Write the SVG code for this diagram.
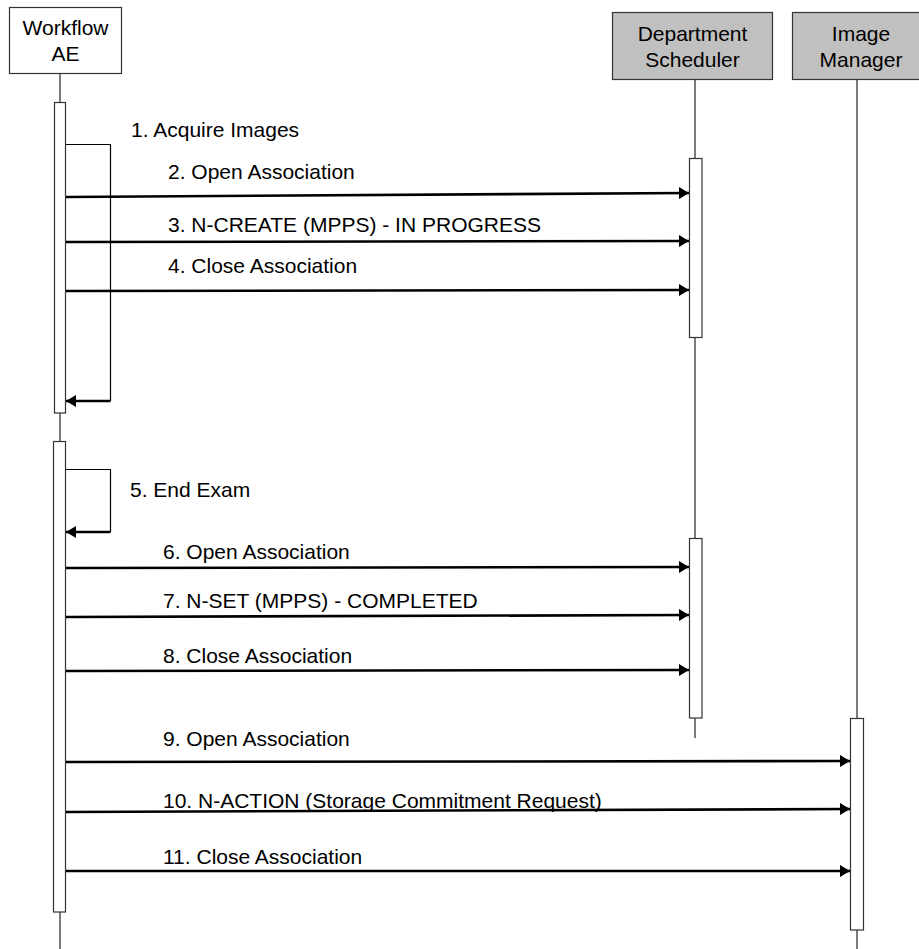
<svg xmlns="http://www.w3.org/2000/svg" width="919" height="949" viewBox="0 0 919 949">
<style>
  text { font-family: "Liberation Sans", Arial, sans-serif; font-size: 21px; fill: #000; }
  .hdr { text-anchor: middle; }
  .life { stroke: #222; stroke-width: 1.2; fill: none; }
  .bar { fill: #fff; stroke: #333; stroke-width: 1.2; }
  .box { stroke: #333; stroke-width: 1.2; }
  .msg { stroke: #000; stroke-width: 2.6; fill: none; marker-end: url(#ah); }
  .loop { stroke: #000; stroke-width: 1.2; fill: none; }
</style>
<defs>
  <marker id="ah" markerUnits="userSpaceOnUse" markerWidth="11" markerHeight="12" refX="10" refY="6" orient="auto">
    <path d="M0,0 L10,6 L0,12 z" fill="#000"/>
  </marker>
</defs>
<rect width="919" height="949" fill="#fff"/>

<g id="workflow-ae">
  <rect class="box" x="9.5" y="7.5" width="112" height="66" fill="#fff"/>
  <text class="hdr" x="65.5" y="35">Workflow</text>
  <text class="hdr" x="65.5" y="61">AE</text>
  <line class="life" x1="60" y1="74" x2="60" y2="103"/>
  <line class="life" x1="60" y1="413" x2="60" y2="441"/>
  <line class="life" x1="60" y1="912" x2="60" y2="949"/>
  <rect class="bar" x="54.5" y="102.5" width="11" height="310.5"/>
  <rect class="bar" x="53.5" y="441.5" width="12" height="470.5"/>
</g>

<g id="department-scheduler">
  <rect class="box" x="612.5" y="12.5" width="160" height="67" fill="#c0c0c0"/>
  <text class="hdr" x="692.5" y="41">Department</text>
  <text class="hdr" x="692.5" y="67">Scheduler</text>
  <line class="life" x1="695" y1="80" x2="695" y2="158"/>
  <line class="life" x1="695" y1="337" x2="695" y2="538"/>
  <line class="life" x1="695" y1="718" x2="695" y2="738"/>
  <rect class="bar" x="689.5" y="158.5" width="12.5" height="179"/>
  <rect class="bar" x="689.5" y="538.5" width="12.5" height="179.5"/>
</g>

<g id="image-manager">
  <rect class="box" x="792.5" y="12.5" width="140" height="67" fill="#c0c0c0"/>
  <text class="hdr" x="861" y="41">Image</text>
  <text class="hdr" x="861" y="67">Manager</text>
  <line class="life" x1="857" y1="80" x2="857" y2="718"/>
  <line class="life" x1="857" y1="930" x2="857" y2="949"/>
  <rect class="bar" x="850.5" y="718.5" width="13" height="211.5"/>
</g>

<g id="connectors">
  <polyline class="loop" points="66,144.5 110.5,144.5 110.5,401"/>
  <line class="msg" x1="110.5" y1="401" x2="66" y2="401"/>
  <polyline class="loop" points="66,469.5 110.5,469.5 110.5,532"/>
  <line class="msg" x1="110.5" y1="532" x2="66" y2="532"/>

  <line class="msg" x1="66" y1="197" x2="689" y2="193"/>
  <line class="msg" x1="66" y1="242" x2="689" y2="241"/>
  <line class="msg" x1="66" y1="291" x2="689" y2="290"/>

  <line class="msg" x1="66" y1="568" x2="689" y2="567"/>
  <line class="msg" x1="66" y1="617" x2="689" y2="615"/>
  <line class="msg" x1="66" y1="671" x2="689" y2="670"/>

  <line class="msg" x1="66" y1="762" x2="850" y2="761"/>
  <line class="msg" x1="66" y1="812" x2="850" y2="809"/>
  <line class="msg" x1="66" y1="871" x2="850" y2="871"/>
</g>

<g id="labels">
  <text x="131" y="137">1. Acquire Images</text>
  <text x="168" y="179">2. Open Association</text>
  <text x="168" y="232">3. N-CREATE (MPPS) - IN PROGRESS</text>
  <text x="168" y="273">4. Close Association</text>
  <text x="130" y="497">5. End Exam</text>
  <text x="163" y="559">6. Open Association</text>
  <text x="163" y="608">7. N-SET (MPPS) - COMPLETED</text>
  <text x="163" y="663">8. Close Association</text>
  <text x="163" y="746">9. Open Association</text>
  <text x="163" y="808">10. N-ACTION (Storage Commitment Request)</text>
  <text x="163" y="864">11. Close Association</text>
</g>
</svg>
